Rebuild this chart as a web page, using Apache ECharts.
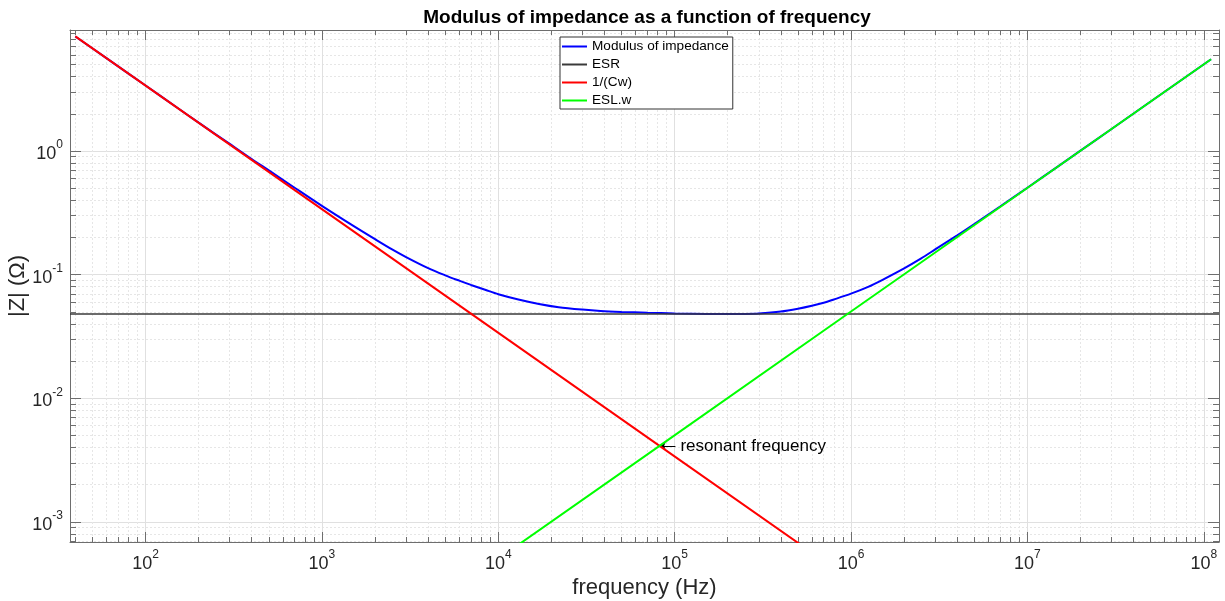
<!DOCTYPE html>
<html>
<head>
<meta charset="utf-8">
<script src="https://cdn.jsdelivr.net/npm/echarts@6/dist/echarts.min.js"></script>
<style>
html,body{margin:0;padding:0;background:#fff;}
#chart{width:1225px;height:601px;}
</style>
</head>
<body>
<div id="chart"></div>
<script>
// ---- data ----
const TITLE = 'Modulus of impedance as a function of frequency';
const SERIES_NAMES = ['Modulus of impedance', 'ESR', '1/(Cw)', 'ESL.w'];

const FREQ_Z = [40, 60, 100, 150, 200, 300, 400, 500, 700, 1000,
  1500, 2000, 2500, 3000, 4000, 5000, 6000, 7000, 8500, 1e4,
  1.3e4, 1.7e4, 2.2e4, 3e4, 3.8e4, 5e4, 7e4, 1e5, 1.5e5, 2e5,
  2.5e5, 3e5, 4e5, 5e5, 6e5, 7e5, 8e5, 1e6, 1.25e6, 1.5e6,
  2e6, 2.5e6, 3e6, 4e6, 5e6, 7e6, 1e7, 1.5e7, 2e7, 3e7,
  5e7, 7e7, 1.1e8];
const Z_MOD = [8.44, 5.64, 3.388, 2.259, 1.696, 1.142, 0.860, 0.697, 0.505, 0.360,
  0.249, 0.1936, 0.160, 0.1387, 0.1129, 0.0988, 0.0895, 0.0826, 0.0751, 0.0695,
  0.0630, 0.0580, 0.0546, 0.0522, 0.0509, 0.0500, 0.0492, 0.0486, 0.0481, 0.0480,
  0.0481, 0.0485, 0.0503, 0.0530, 0.0560, 0.0593, 0.0630, 0.0702, 0.0797, 0.0905,
  0.1125, 0.1355, 0.160, 0.208, 0.257, 0.356, 0.505, 0.756, 1.007, 1.509,
  2.514, 3.52, 5.53];

const FREQ_ESR = [37.3, 1.22e8];
const Z_ESR = [0.048, 0.048];

const FREQ_C = [40, 7000, 82100, 1e6];
const Z_C = [8.465, 0.0484, 0.00412, 0.000339];

const FREQ_L = [1e4, 82100, 9.5e5, 1.1e8];
const Z_L = [0.000503, 0.00412, 0.0478, 5.53];

const RESONANCE = [82100, 0.00412];
const ARROW_TAIL = [101000, 0.00412];
const RESONANCE_TEXT = 'resonant frequency';

const X_MIN = 37.3, X_MAX = 1.22e8;
const Y_MIN = 6.88e-4, Y_MAX = 9.53;
const X_MAJOR = [1e2, 1e3, 1e4, 1e5, 1e6, 1e7, 1e8];
const Y_MAJOR = [1e-3, 1e-2, 1e-1, 1e0];

function minorTicks(lo, hi) {
  const out = [];
  for (let e = Math.floor(Math.log10(lo)); e <= Math.ceil(Math.log10(hi)); e++) {
    for (let m = 2; m <= 9; m++) {
      const v = m * Math.pow(10, e);
      if (v > lo && v < hi) out.push(v);
    }
  }
  return out;
}
const X_MINOR = minorTicks(X_MIN, X_MAX);
const Y_MINOR = minorTicks(Y_MIN, Y_MAX);

// ---- styling ----
const FONT = '"Liberation Sans", Arial, Helvetica, sans-serif';
const TXT = '#262626';
const AXIS_COLOR = '#6e6e6e';
const MAJOR_GRID = '#e0e0e0';
const MINOR_GRID = '#e6e6e6';

function powLabel(v) {
  const e = Math.round(Math.log10(v));
  return '{b|10}{s|' + e + '}';
}
const labelRich = {
  b: {fontSize: 18, fontFamily: FONT, color: TXT, lineHeight: 24, verticalAlign: 'bottom'},
  s: {fontSize: 12, fontFamily: FONT, color: TXT, lineHeight: 12, verticalAlign: 'top'}
};

function zip(a, b) { return a.map((v, i) => [v, b[i]]); }

function majorAxis(kind, position, withLabels, extra) {
  const isX = kind === 'x';
  const ax = {
    type: 'log', logBase: 10,
    min: isX ? X_MIN : Y_MIN, max: isX ? X_MAX : Y_MAX,
    position: position,
    axisLine: {show: true, onZero: false, lineStyle: {color: AXIS_COLOR, width: 1}},
    axisTick: {show: true, inside: true, length: isX ? 10 : 11,
      customValues: isX ? X_MAJOR : Y_MAJOR,
      lineStyle: {color: AXIS_COLOR, width: 1}},
    axisLabel: withLabels ? {
      show: true, customValues: isX ? X_MAJOR : Y_MAJOR,
      formatter: powLabel, rich: labelRich, margin: 7
    } : {show: false},
    splitLine: {show: withLabels, lineStyle: {color: MAJOR_GRID, width: 1}},
    minorTick: {show: false}, minorSplitLine: {show: false}
  };
  return Object.assign(ax, extra || {});
}
function minorAxis(kind, position, withGrid) {
  const isX = kind === 'x';
  return {
    type: 'log', logBase: 10,
    min: isX ? X_MIN : Y_MIN, max: isX ? X_MAX : Y_MAX,
    position: position,
    axisLine: {show: false, onZero: false},
    axisTick: {show: true, inside: true, length: isX ? 5 : 6,
      customValues: isX ? X_MINOR : Y_MINOR,
      lineStyle: {color: AXIS_COLOR, width: 1}},
    axisLabel: {show: false},
    splitLine: {show: withGrid, lineStyle: {color: MINOR_GRID, width: 1, type: [2, 2]}}
  };
}

const chart = echarts.init(document.getElementById('chart'), null, {renderer: 'canvas'});
chart.setOption({
  backgroundColor: '#ffffff',
  animation: false,
  textStyle: {fontFamily: FONT},
  title: {
    text: TITLE, left: 642, textAlign: 'center', top: 3,
    textStyle: {fontSize: 19, fontWeight: 'bold', color: '#000', fontFamily: FONT}
  },
  grid: {left: 70, right: 6, top: 30, bottom: 59, containLabel: false, outerBoundsMode: 'none'},
  legend: {
    orient: 'vertical', left: 560, top: 37,
    icon: 'rect',
    itemWidth: 25, itemHeight: 2, itemGap: 3,
    padding: [2, 4, 1, 2],
    borderColor: '#333', borderWidth: 1, backgroundColor: '#fff',
    textStyle: {fontSize: 13.6, lineHeight: 15, color: '#000', fontFamily: FONT},
    data: SERIES_NAMES
  },
  xAxis: [
    majorAxis('x', 'bottom', true, {
      name: 'frequency (Hz)', nameLocation: 'middle', nameGap: 35, nameMoveOverlap: false,
      nameTextStyle: {fontSize: 22, color: TXT, fontFamily: FONT}
    }),
    minorAxis('x', 'bottom', true),
    majorAxis('x', 'top', false),
    minorAxis('x', 'top', false)
  ],
  yAxis: [
    majorAxis('y', 'left', true, {
      name: '|Z| (\u03A9)', nameLocation: 'middle', nameGap: 41, nameMoveOverlap: false,
      nameTextStyle: {fontSize: 22, color: TXT, fontFamily: FONT}
    }),
    minorAxis('y', 'left', true),
    majorAxis('y', 'right', false),
    minorAxis('y', 'right', false)
  ],
  series: [
    {name: SERIES_NAMES[0], type: 'line', data: zip(FREQ_Z, Z_MOD), symbol: 'none',
      smooth: 0.3,
      lineStyle: {color: '#0000ff', width: 2}, itemStyle: {color: '#0000ff'}, clip: true, z: 3},
    {name: SERIES_NAMES[1], type: 'line', data: zip(FREQ_ESR, Z_ESR), symbol: 'none',
      lineStyle: {color: '#3a3a3a', width: 1.5}, itemStyle: {color: '#3a3a3a'}, clip: true, z: 4},
    {name: SERIES_NAMES[2], type: 'line', data: zip(FREQ_C, Z_C), symbol: 'none',
      lineStyle: {color: '#ff0000', width: 2}, itemStyle: {color: '#ff0000'}, clip: true, z: 5},
    {name: SERIES_NAMES[3], type: 'line', data: zip(FREQ_L, Z_L), symbol: 'none',
      lineStyle: {color: '#00ff00', width: 2}, itemStyle: {color: '#00ff00'}, clip: true, z: 6,
      markLine: {
        silent: true, symbol: ['none', 'arrow'], symbolSize: [5, 6],
        lineStyle: {color: '#000', width: 1, type: 'solid'},
        label: {show: true, position: 'start', distance: 5, formatter: RESONANCE_TEXT,
          color: '#000', fontSize: 17, fontFamily: FONT},
        data: [[{coord: ARROW_TAIL}, {coord: RESONANCE}]]
      }}
  ]
});
</script>
</body>
</html>
